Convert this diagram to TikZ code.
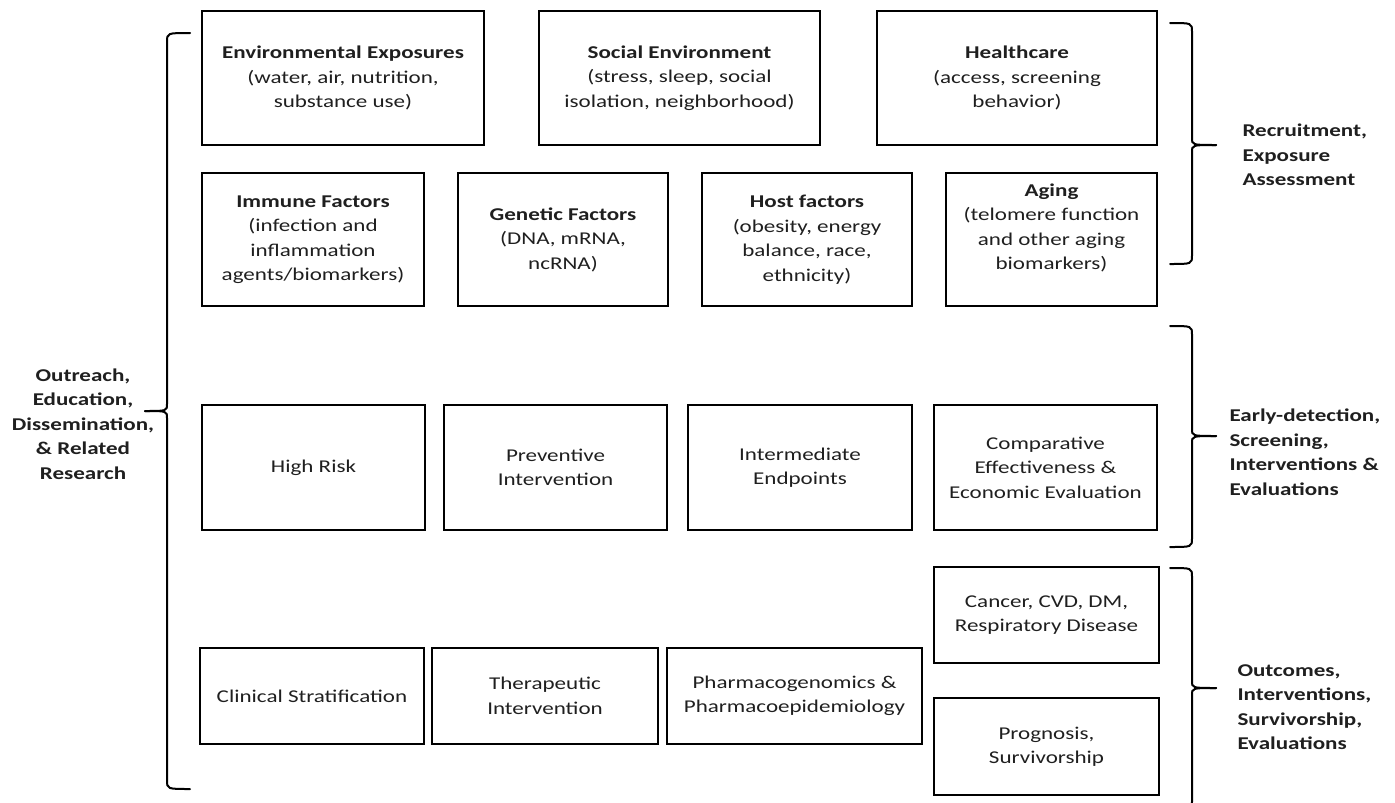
\documentclass[tikz,border=0pt]{standalone}
\usepackage{fontspec}
\setmainfont{Carlito}[FakeStretch=1.28]
\tikzset{
  box/.style={draw=black, line width=2.6pt, align=center, inner sep=2pt,
    font=\fontsize{18}{24.5}\selectfont, text=black!88},
  side/.style={align=left, font=\bfseries\fontsize{18}{24.5}\selectfont, text=black!88},
  brc/.style={draw=black, line width=2pt, line cap=round}
}
\newcommand{\rbr}[4]{%
  \draw[brc] (#1-22,#2) .. controls (#1,#2) .. (#1,#2+9) -- (#1,#3-7) .. controls (#1,#3) .. (#1+24,#3);
  \draw[brc] (#1-22,#4) .. controls (#1,#4) .. (#1,#4-9) -- (#1,#3+7) .. controls (#1,#3) .. (#1+24,#3);}
\newcommand{\lbr}[4]{%
  \draw[brc] (#1+23,#2) .. controls (#1,#2) .. (#1,#2+9) -- (#1,#3-7) .. controls (#1,#3) .. (#1-22,#3);
  \draw[brc] (#1+23,#4) .. controls (#1,#4) .. (#1,#4-9) -- (#1,#3+7) .. controls (#1,#3) .. (#1-22,#3);}
\begin{document}
\begin{tikzpicture}[x=1pt,y=-1pt]
\useasboundingbox (0,0) rectangle (1395,803);
% row 1
\node[box, minimum width=282pt, minimum height=134pt] (env) at (343,78)
  {\textbf{Environmental Exposures}\\(water, air, nutrition,\\substance use)};
\node[box, minimum width=281pt, minimum height=134pt] (soc) at (679.5,78)
  {\textbf{Social Environment}\\(stress, sleep, social\\isolation, neighborhood)};
\node[box, minimum width=280pt, minimum height=134pt] (hc) at (1017,78)
  {\textbf{Healthcare}\\(access, screening\\behavior)};
% row 2
\node[box, minimum width=222pt, minimum height=133pt] (imm) at (313,239.5)
  {\textbf{Immune Factors}\\(infection and\\inflammation\\agents/biomarkers)};
\node[box, minimum width=210pt, minimum height=133pt] (gen) at (563,239.5)
  {\textbf{Genetic Factors}\\(DNA, mRNA,\\ncRNA)};
\node[box, minimum width=210pt, minimum height=133pt] (host) at (807,239.5)
  {\textbf{Host factors}\\(obesity, energy\\balance, race,\\ethnicity)};
\node[box, minimum width=211pt, minimum height=133pt] (aging) at (1051.5,239.5)
  {\textbf{Aging}\\(telomere function\\and other aging\\biomarkers)\\[-6pt]\strut};
% row 3
\node[box, minimum width=223pt, minimum height=125pt] (hr) at (313.5,467.5) {High Risk};
\node[box, minimum width=223pt, minimum height=125pt] (prev) at (555.5,467.5) {Preventive\\Intervention};
\node[box, minimum width=224pt, minimum height=125pt] (inter) at (800,467.5) {Intermediate\\Endpoints};
\node[box, minimum width=223pt, minimum height=125pt] (comp) at (1045.5,467.5) {Comparative\\Effectiveness \&\\Economic Evaluation};
% row 4
\node[box, minimum width=224pt, minimum height=96pt] (clin) at (312,696) {Clinical Stratification};
\node[box, minimum width=226pt, minimum height=96pt] (ther) at (545,696) {Therapeutic\\Intervention};
\node[box, minimum width=255pt, minimum height=96pt] (pharm) at (794.5,696) {Pharmacogenomics \&\\Pharmacoepidemiology};
\node[box, minimum width=225pt, minimum height=96pt] (canc) at (1046.5,615) {Cancer, CVD, DM,\\Respiratory Disease};
\node[box, minimum width=225pt, minimum height=97pt] (prog) at (1046.5,746.5) {Prognosis,\\Survivorship};
% braces
\lbr{167}{33}{411}{789}
\rbr{1192}{23}{145}{264}
\rbr{1192}{326}{436}{547}
\rbr{1192}{568}{688}{810}
% side labels
\node[side, align=center] (outreach) at (83,424) {Outreach,\\Education,\\Dissemination,\\\& Related\\Research};
\node[side, anchor=west] (recr) at (1239,155) {Recruitment,\\Exposure\\Assessment};
\node[side, anchor=west] (early) at (1226,452) {Early-detection,\\Screening,\\Interventions \&\\Evaluations};
\node[side, anchor=west] (outc) at (1234,707) {Outcomes,\\Interventions,\\Survivorship,\\Evaluations};
\end{tikzpicture}
\end{document}
